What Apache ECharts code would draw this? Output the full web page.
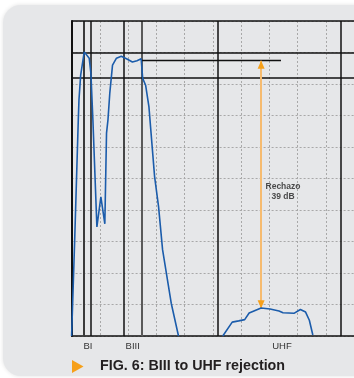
<!DOCTYPE html>
<html>
<head>
<meta charset="utf-8">
<script src="https://cdn.jsdelivr.net/npm/echarts@6/dist/echarts.min.js"></script>
<style>
html,body{margin:0;padding:0;background:#ffffff;}
#chart{width:354px;height:378px;}
</style>
</head>
<body>
<div id="chart"></div>
<script>
// ---- data (frequency axis units arbitrary 0..900, level axis 0..50 dB) ----
const lowBandCurve = [
  [0,0],[9.8,15.2],[21.3,34.3],[23.5,37.5],[28.9,41.4],[40.3,45.1],[56.1,44.1],[61.5,41.7],
  [67.9,34.3],[80.6,17.3],[93.3,22.1],[105.9,17.8],[111.3,32.2],[115.9,34.3],[121.8,38.6],
  [130.4,43.0],[143.0,44.1],[158.3,44.4],[174.8,44.0],[193.8,43.5],[208.4,43.7],[221.7,44.0],
  [226.5,40.9],[236.0,39.8],[246.4,36.4],[264.5,25.3],[277.2,20.5],[289.9,13.7],[317.5,5.2],[340.7,0]
];
const uhfCurve = [
  [481.8,0],[511.9,2.2],[532.5,2.4],[551.6,2.6],[565.8,3.65],[584.9,4.05],[603.9,4.44],
  [632.5,4.29],[661.0,3.97],[673.7,3.7],[708.6,3.6],[729.2,4.2],[745.7,3.8],[757.7,2.5],[768.8,0.15]
];
const bandEdges = [37.7, 60.6, 166.2, 223.3, 465.9, 856.7];
const bandEdgeColors = ['#3a3a3a', '#111111', '#111111', '#5a5a5a', '#111111', '#111111'];
const bandEdgeWidths = [2, 1.5, 1.5, 2, 1.5, 1.5];
const bandLabels = ['BI', 'BIII', 'UHF'];
const bandLabelPos = [52, 194.8, 670.5];
const refLevels = [50, 45, 41];
const bIIILevel = 43.7;
const uhfPeak = 4.4;
const refLineStart = 223.3;
const refLineEnd = 667.3;
const arrowFreq = 604;
const rejectionText = 'Rechazo\n39 dB';
const rejectionPos = [673.7, 22.9];
const figTitle = 'FIG. 6:';
const figSubtitle = ' BIII to UHF rejection';

const chart = echarts.init(document.getElementById('chart'), null, {renderer: 'canvas'});

const vLines = bandEdges.map((v, i) => ({
  xAxis: v,
  lineStyle: {color: bandEdgeColors[i], width: bandEdgeWidths[i], type: 'solid'}
}));
const hLines = refLevels.map(v => ({
  yAxis: v,
  lineStyle: {color: '#111111', width: 1.5, type: 'solid'}
}));

const option = {
  animation: false,
  backgroundColor: '#ffffff',
  graphic: [
    {type: 'rect', z: -100, shape: {x: 3, y: 5, width: 380, height: 371, r: 18},
     style: {fill: '#e6e7e9', shadowBlur: 4, shadowColor: 'rgba(0,0,0,0.12)', shadowOffsetX: 0, shadowOffsetY: 0}},
    {type: 'polygon', z: 10, shape: {points: [[72, 360], [83.5, 366.5], [72, 373]]},
     style: {fill: '#f6a01a'}},
    {type: 'text', z: 10, left: 100, top: 359,
     style: {
       text: '{a|' + figTitle + '}{b|' + figSubtitle + '}',
       rich: {
         a: {fontFamily: 'Liberation Sans', fontWeight: 'bold', fontSize: 14.3, fill: '#231f20'},
         b: {fontFamily: 'Liberation Sans', fontWeight: 'bold', fontSize: 14.3, fill: '#231f20'}
       }
     }}
  ],
  grid: {left: 71.6, top: 21, width: 283.75, height: 315, containLabel: false},
  xAxis: [
    {type: 'value', min: 0, max: 900, interval: 90,
     axisLine: {show: true, lineStyle: {color: '#111', width: 1.5}},
     axisTick: {show: false}, axisLabel: {show: false},
     splitLine: {show: true, lineStyle: {color: '#a8a8a8', type: [2, 2], width: 1}}},
    {type: 'value', min: 0, max: 900, position: 'bottom', offset: 0,
     axisLine: {show: false}, axisTick: {show: false}, splitLine: {show: false},
     axisLabel: {show: true, customValues: bandLabelPos, margin: 5,
       fontFamily: 'Liberation Sans', fontSize: 9.5, color: '#333',
       formatter: function (v) {
         let best = 0;
         for (let i = 0; i < bandLabelPos.length; i++) {
           if (Math.abs(bandLabelPos[i] - v) < Math.abs(bandLabelPos[best] - v)) best = i;
         }
         return bandLabels[best];
       }}}
  ],
  yAxis: {type: 'value', min: 0, max: 50, interval: 5, offset: 1.6,
    axisLine: {show: true, lineStyle: {color: '#111', width: 2}},
    axisTick: {show: false}, axisLabel: {show: false},
    splitLine: {show: true, lineStyle: {color: '#a8a8a8', type: [2, 2], width: 1}}},
  series: [
    {type: 'line', name: 'grid-marks', data: [], silent: true,
     markLine: {silent: true, symbol: 'none', label: {show: false}, animation: false,
       data: vLines.concat(hLines).concat([
         [{coord: [refLineStart, bIIILevel], lineStyle: {color: '#111', width: 1.3, type: 'solid'}},
          {coord: [refLineEnd, bIIILevel]}],
         [{coord: [arrowFreq, bIIILevel], lineStyle: {color: '#f6bb6f', width: 2, type: 'solid'}},
          {coord: [arrowFreq, uhfPeak]}]
       ])},
     markPoint: {silent: true, animation: false,
       data: [
         {coord: [arrowFreq, bIIILevel], symbol: 'triangle', symbolSize: [7, 8], symbolOffset: [0, '50%'],
          itemStyle: {color: '#f6a01a'}, label: {show: false}},
         {coord: [arrowFreq, uhfPeak], symbol: 'triangle', symbolSize: [7, 8], symbolRotate: 180, symbolOffset: [0, '-50%'],
          itemStyle: {color: '#f6a01a'}, label: {show: false}}
       ]}},
    {type: 'scatter', name: 'annotation', data: [rejectionPos], symbol: 'circle', symbolSize: 1,
     itemStyle: {color: 'rgba(0,0,0,0)'}, silent: true, z: 6,
     label: {show: true, position: 'inside', formatter: rejectionText, fontFamily: 'Liberation Sans',
       fontWeight: 'bold', fontSize: 8.5, lineHeight: 9.5, color: '#222', align: 'center'}},
    {type: 'line', name: 'low bands', data: lowBandCurve, showSymbol: false, symbol: 'none',
     lineStyle: {color: '#1b5cab', width: 1.6}, z: 5},
    {type: 'line', name: 'UHF', data: uhfCurve, showSymbol: false, symbol: 'none',
     lineStyle: {color: '#1b5cab', width: 1.6}, z: 5}
  ]
};
chart.setOption(option);
</script>
</body>
</html>
